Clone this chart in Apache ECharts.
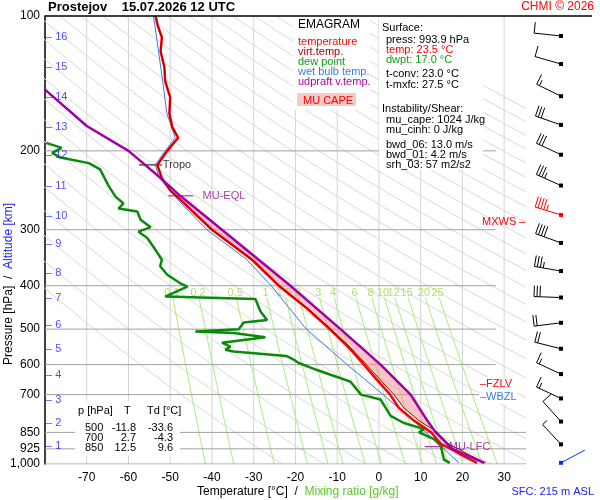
<!DOCTYPE html>
<html>
<head>
<meta charset="utf-8">
<title>Emagram Prostejov</title>
<script src="https://cdn.jsdelivr.net/npm/echarts@6/dist/echarts.min.js"></script>
<style>body{margin:0;background:#fff}#chart{width:600px;height:500px}</style>
</head>
<body>
<div id="chart"></div>
<script>
// sounding rows: [p hPa, T, Tv]
var temp = [[993.9,23.5,25.6],[960,20.3,22.2],[925,17.2,19.0],[900,14.8,16.5],[850,12.5,14.0],[800,8.4,9.6],[750,4.8,6.0],
  [700,2.7,3.6],[650,-0.4,0.4],[600,-3.6,-3.0],[550,-7.2,-6.8],[500,-11.8,-11.5],[450,-17.2,-17.0],[400,-24,-23.9],
  [350,-30.4,-30.3],[300,-40,-40],[257,-47.6,-47.6],[245,-50,-50],[230,-52,-52],[215,-53.1,-53.1],[200,-50.7,-50.7],
  [187,-48.1,-48.1],[177,-49.5,-49.5],[165,-50.2,-50.2],[152,-50,-50],[140,-51.2,-51.2],[130,-51.4,-51.4],[120,-52.3,-52.3],
  [111.6,-52,-52],[105,-53,-53],[100,-53.5,-53.5]];
var dewp = [[993.9,17.0],[978,15.6],[910,14.8],[880,13.2],[850,9.6],[836,10.8],[810,6],[781,2.8],[718,0.4],[700,-4.3],
  [655,-6.8],[632,-11.6],[617,-14.8],[595,-19.2],[585,-20.4],[574,-22.2],[561,-34.8],[556,-36.8],[547,-35.6],
  [536,-37.6],[521,-27.2],[510,-34.8],[506,-44],[500,-33.6],[483,-32.4],[477,-26.8],[456,-28.4],[428,-29.6],
  [423,-51.2],[402,-45.9],[395,-47.6],[378,-50.7],[362,-52.4],[350,-52],[333,-53.5],[313,-55.5],[303,-57.6],
  [296,-54.7],[285,-57.1],[273,-57.9],[269,-62.4],[262,-61.2],[253,-63.1],[240,-64.7],[220,-66.8],[213,-69.5],
  [209,-73.9],[207,-76.3],[202,-78.3],[197,-76],[192,-79.7]];
var wetb = [[993.9,19.2],[925,15.6],[850,11.3],[800,8.2],[700,1.0],[600,-7.6],[500,-17.4],[400,-25.8],[350,-31.6],
  [300,-41.2],[257,-48.2],[230,-52.6],[215,-53.6],[200,-51.2],[187,-48.8],[165,-50.8],[140,-51.8],[120,-52.8],[100,-54]];
var parcel = [[993.9,25.2],[925,17.6],[850,13.6],[800,11.6],[700,7.6],[600,0.4],[500,-9.2],[400,-21.2],[300,-37.6],
  [252,-47.6],[230,-52.3],[200,-60],[176,-70],[146,-80]];
var lfc = 915, eql = 252;
// wind: [p, dir deg, speed kt]
var wind = [[110.8,276,10],[128,286,10],[151,296,15],[175,289,30],[204,295,30],[239,294,35],[278,287,45],[321,290,40],
  [371,280,35],[425,272,30],[484,263,20],[553,284,20],[630,295,15],[714,295,15],[804,318,10],[904,317,5],[993.9,62,5]];
var alt = [[912,1],[810,2],[720,3],[633,4],[554,5],[490,6],[426,7],[374,8],[322.5,9],[279,10],[240,11],[204,12],
  [176.6,13],[152,14],[130,15],[111.6,16]];
var plevels = [100,200,300,400,500,600,700,850,925,1000];
var mixr = [0.1,0.2,0.5,1,1.5,2,3,4,6,8,10,12,15,20,25];

function pts(rows, col) { return rows.map(function (r) { return [r[col], r[0]]; }); }
function interp(rows, col, p) {
  for (var i = 0; i < rows.length - 1; i++) {
    var a = rows[i], b = rows[i + 1];
    if ((p <= a[0] && p >= b[0])) {
      var f = Math.log(a[0] / p) / Math.log(a[0] / b[0]);
      return a[col] + f * (b[col] - a[col]);
    }
  }
  return null;
}

var series = [];
function bg(data, color, width) {
  series.push({ type: 'line', data: data, showSymbol: false, silent: true, lineStyle: { color: color, width: width || 1 }, z: 1 });
}
// isotherms
for (var t = -70; t <= 30; t += 10) bg([[t, 100], [t, 1000]], '#d4d4d4');
// dry adiabats
for (var th = 250; th <= 520; th += 10) {
  var d = [];
  for (var p = 1000; p >= 100; p -= 25) d.push([th * Math.pow(p / 1000, 0.286) - 273.15, p]);
  bg(d, '#d8d8d8');
}
// mixing ratio lines
var mrLabels = [];
mixr.forEach(function (w) {
  var d = [];
  [1000, 900, 800, 700, 600, 500, 425].forEach(function (p) {
    var e = w * p / (622 + w), l = Math.log(e / 6.112);
    d.push([243.5 * l / (17.67 - l), p]);
  });
  bg(d, '#a6ee7a');
  var e = w * 415 / (622 + w), l = Math.log(e / 6.112);
  mrLabels.push({ value: [243.5 * l / (17.67 - l), 415], name: String(w) });
});
function textSeries(data, z) {
  series.push({ type: 'scatter', data: data, symbolSize: 0, silent: true, z: z, emphasis: { disabled: true },
    label: { show: true, formatter: '{b}', fontSize: 11 } });
}
mrLabels.forEach(function (m) { m.label = { color: '#9ad84a', position: 'inside' }; });
textSeries(mrLabels, 2);
// pressure lines
plevels.slice(1).forEach(function (p) { bg([[-80, p], [p >= 850 ? 40 : 28, p]], '#a0a0a0'); });

// CAPE area between parcel and virtual temperature
var poly = [];
var steps = [];
temp.forEach(function (r) { if (r[0] < lfc && r[0] > eql) steps.push(r[0]); });
steps = [lfc].concat(steps, [eql]);
steps.forEach(function (p) { poly.push([interp(parcel, 1, p), p]); });
steps.slice().reverse().forEach(function (p) { poly.push([interp(temp, 2, p), p]); });
series.push({ type: 'custom', silent: true, z: 3, data: [0],
  renderItem: function (params, api) {
    return { type: 'polygon', shape: { points: poly.map(function (q) { return api.coord(q); }) },
      style: { fill: 'rgba(240,150,150,0.55)' } };
  } });

function prof(data, color, width, z) {
  series.push({ type: 'line', data: data, showSymbol: false, silent: true, z: z, lineStyle: { color: color, width: width } });
}
prof(pts(wetb, 1), '#3a7ae8', 1, 4);
prof(pts(dewp, 1), '#0a8a0a', 2.5, 5);
prof(pts(temp, 1), '#ff0000', 2.5, 6);
prof(pts(temp, 2), '#a00000', 1, 7);
prof(pts(parcel, 1), '#a000a8', 2.5, 8);

// markers
bg([[-57.5, 215], [-52, 215]], '#000');
bg([[-50.5, eql], [-44.5, eql]], '#a000a8');
bg([[11, lfc], [16, lfc]], '#a000a8');
textSeries([
  { value: [-52, 215], name: 'Tropo', label: { color: '#000', position: 'right', distance: 1 } },
  { value: [-42.5, eql], name: 'MU-EQL', label: { color: '#8a108a', position: 'right', distance: 1 } },
  { value: [16.5, lfc], name: 'MU-LFC', label: { color: '#8a108a', position: 'right', distance: 1 } }], 9);
// altitude ticks
textSeries(alt.map(function (a) {
  return { value: [-80, a[0]], name: '\u2013 ' + a[1], label: { color: '#2020ff', position: 'right', distance: 1 } };
}), 9);

// wind barbs
series.push({ type: 'custom', silent: true, z: 10, clip: false, data: wind,
  renderItem: function (params, api) {
    var p = api.value(0), dir = api.value(1) * Math.PI / 180, sp = api.value(2);
    var o = api.coord([33, p]); o[0] = 561;
    var sx = Math.sin(dir), sy = -Math.cos(dir);
    var L = 27, tip = [o[0] + sx * L, o[1] + sy * L];
    var nx = -sy, ny = sx;
    if (ny > 0) { nx = -nx; ny = -ny; }
    var isSfc = params.dataIndex === wind.length - 1;
    var col = isSfc ? '#0033ee' : (sp === 45 ? '#ff0000' : '#000');
    var kids = [{ type: 'line', shape: { x1: o[0], y1: o[1], x2: tip[0], y2: tip[1] }, style: { stroke: col, lineWidth: 1 } },
      { type: 'rect', shape: { x: o[0] - 2, y: o[1] - 2, width: 4, height: 4 }, style: { fill: col } }];
    if (!isSfc) {
      var rem = sp, k = 0;
      while (rem >= 5) {
        var len = rem >= 10 ? 11 : 6;
        var bx = tip[0] - sx * k * 3, by = tip[1] - sy * k * 3;
        kids.push({ type: 'line', shape: { x1: bx, y1: by, x2: bx + nx * len, y2: by + ny * len },
          style: { stroke: col, lineWidth: 1 } });
        rem -= (rem >= 10 ? 10 : 5); k++;
      }
    }
    return { type: 'group', children: kids };
  } });

var F = '11px Liberation Sans';
function txt(x, y, s, extra) {
  var st = { text: s, font: F, fill: '#000' };
  for (var k in extra || {}) st[k] = extra[k];
  return { type: 'text', x: x, y: y, z: 101, style: st };
}
function box(x, y, w, h, c) { return { type: 'rect', z: 100, shape: { x: x, y: y, width: w, height: h }, style: { fill: c || '#fff' } }; }

var chart = echarts.init(document.getElementById('chart'));
chart.setOption({
  animation: false,
  grid: { left: 45, top: 16, width: 480, height: 448, containLabel: false },
  xAxis: { type: 'value', min: -80, max: 35,
    axisLine: { show: false }, axisTick: { show: false }, splitLine: { show: false },
    axisLabel: { customValues: [-70, -60, -50, -40, -30, -20, -10, 0, 10, 20, 30], color: '#000', fontSize: 12, margin: 8 } },
  yAxis: { type: 'log', logBase: 10, min: 100, max: 1000, inverse: true,
    axisLine: { show: true, onZero: false, lineStyle: { color: '#000', width: 1.5 } },
    axisTick: { show: false }, splitLine: { show: false }, minorSplitLine: { show: false },
    axisLabel: { customValues: plevels, color: '#000', fontSize: 12, margin: 5 } },
  graphic: [
    { type: 'line', z: 100, shape: { x1: 45, y1: 16, x2: 592, y2: 16 }, style: { stroke: '#000', lineWidth: 1.5 } },
    txt(48, 1, 'Prostejov    15.07.2026 12 UTC', { font: 'bold 13px Liberation Sans' }),
    { type: 'text', right: 6, top: 1, z: 101, style: { text: 'CHMI \u00a9 2026', font: '12px Liberation Sans', fill: '#ff0000' } },
    box(293, 17, 77, 93),
    txt(298, 19, 'EMAGRAM', { font: '12px Liberation Sans' }),
    txt(298, 37, '{a|temperature}\n{b|virt.temp.}\n{c|dew point}\n{d|wet bulb temp.}\n{e|udpraft v.temp.}',
      { font: '11px Liberation Sans', lineHeight: 10,
        rich: { a: { fill: '#ff0000' }, b: { fill: '#a00000' }, c: { fill: '#10a010' }, d: { fill: '#3a7ae8' }, e: { fill: '#b000b0' } } }),
    box(297, 93, 59, 13, '#f6c8c8'),
    txt(303, 95, 'MU CAPE', { fill: '#ff0000' }),
    box(379, 17, 104, 153),
    txt(382, 22, 'Surface:'),
    txt(386, 35, 'press: 993.9 hPa\n{r|temp: 23.5 \u00b0C}\n{g|dwpt: 17.0 \u00b0C}',
      { lineHeight: 10, rich: { r: { fill: '#ff0000' }, g: { fill: '#10a010' } } }),
    txt(386, 68, 't-conv: 23.0 \u00b0C\nt-mxfc: 27.5 \u00b0C', { lineHeight: 11 }),
    txt(382, 103, 'Instability/Shear:'),
    txt(386, 115, 'mu_cape: 1024 J/kg\nmu_cinh: 0 J/kg', { lineHeight: 10 }),
    txt(386, 140, 'bwd_06: 13.0 m/s\nbwd_01: 4.2 m/s\nsrh_03: 57 m2/s2', { lineHeight: 10 }),
    box(75, 401, 105, 55),
    txt(78, 405, 'p [hPa]'),
    txt(124, 405, 'T'),
    txt(147, 405, 'Td [\u00b0C]'),
    txt(85, 423, '500\n700\n850', { lineHeight: 10 }),
    txt(136, 423, '-11.8\n2.7\n12.5', { lineHeight: 10, align: 'right' }),
    txt(173, 423, '-33.6\n-4.3\n9.6', { lineHeight: 10, align: 'right' }),
    txt(482, 216, 'MXWS \u2013', { fill: '#ff0000' }),
    box(479, 377, 38, 27),
    txt(480, 378, '\u2013FZLV', { fill: '#ff0000' }),
    txt(480, 391, '\u2013WBZL', { fill: '#3a7ae8' }),
    txt(197, 486, 'Temperature [\u00b0C]  /  {g|Mixing ratio [g/kg]}', { font: '12px Liberation Sans', rich: { g: { fill: '#5cc82a' } } }),
    { type: 'text', right: 6, y: 486, z: 101, style: { text: 'SFC: 215 m ASL', font: F, fill: '#2020ff' } },
    { type: 'text', x: 3, y: 365, z: 101, rotation: Math.PI / 2, style: { text: 'Pressure [hPa]  /  {b|Altitude [km]}', font: '12px Liberation Sans', fill: '#000', rich: { b: { fill: '#2020ff' } } } }
  ],
  series: series
});
</script>
</body>
</html>
